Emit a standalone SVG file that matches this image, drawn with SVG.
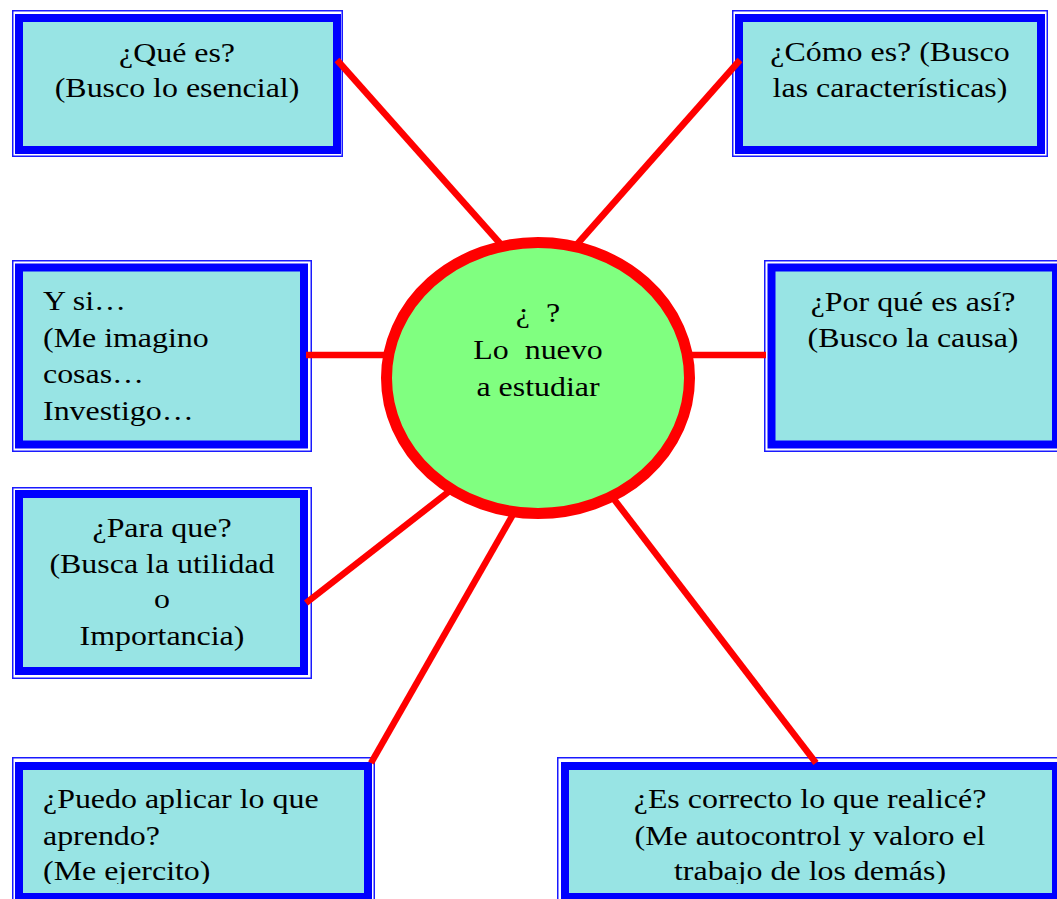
<svg xmlns="http://www.w3.org/2000/svg" width="1057" height="899" viewBox="0 0 1057 899">
<style>
.thin{fill:#ffffff;stroke:#1a1aff;stroke-width:1.5}
.band{fill:#98e4e4;stroke:#0000ff;stroke-width:8}
.t{font-family:"Liberation Serif","Times New Roman",serif;font-size:28px;fill:#000}
.c{text-anchor:middle}
.con line{stroke:#ff0000;stroke-width:6.5;stroke-linecap:butt}
</style>
<defs>
<clipPath id="clipB"><rect x="0" y="700" width="1057" height="184"/></clipPath>
</defs>
<rect width="1057" height="899" fill="#ffffff"/>

<g id="n-que-es">
<rect class="thin" x="12.75" y="10.75" width="329.5" height="145.5"/>
<rect class="band" x="19" y="18" width="318" height="132"/>
<text class="t c" transform="matrix(1.14 0 0 1 177 0)"><tspan x="0" y="62">¿Qué es?</tspan><tspan x="0" y="97">(Busco lo esencial)</tspan></text>
</g>

<g id="n-como-es">
<rect class="thin" x="732.75" y="10.75" width="314.5" height="145.5"/>
<rect class="band" x="739" y="18" width="302" height="132"/>
<text class="t c" transform="matrix(1.14 0 0 1 890 0)"><tspan x="0" y="61">¿Cómo es? (Busco</tspan><tspan x="0" y="97">las características)</tspan></text>
</g>

<g id="n-y-si">
<rect class="thin" x="12.75" y="260.75" width="298.5" height="190.5"/>
<rect class="band" x="19" y="267.5" width="285" height="177"/>
<text class="t" transform="matrix(1.14 0 0 1 43 0)"><tspan x="0" y="310">Y si…</tspan><tspan x="0" y="347">(Me imagino</tspan><tspan x="0" y="383">cosas…</tspan><tspan x="0" y="420">Investigo…</tspan></text>
</g>

<g id="n-por-que">
<rect class="thin" x="764.75" y="260.75" width="300" height="190.5"/>
<rect class="band" x="771.5" y="267.5" width="284.5" height="177"/>
<text class="t c" transform="matrix(1.14 0 0 1 913 0)"><tspan x="0" y="311">¿Por qué es así?</tspan><tspan x="0" y="347">(Busco la causa)</tspan></text>
</g>

<g id="n-para-que">
<rect class="thin" x="12.75" y="487.75" width="298.5" height="190.5"/>
<rect class="band" x="19" y="494" width="285" height="177"/>
<text class="t c" transform="matrix(1.14 0 0 1 162 0)"><tspan x="0" y="537">¿Para que?</tspan><tspan x="0" y="573">(Busca la utilidad</tspan><tspan x="0" y="608">o</tspan><tspan x="0" y="645">Importancia)</tspan></text>
</g>

<g id="n-puedo">
<rect class="thin" x="12.75" y="757.75" width="361.5" height="160"/>
<rect class="band" x="19" y="766" width="349" height="131"/>
<g clip-path="url(#clipB)">
<text class="t" transform="matrix(1.14 0 0 1 43 0)"><tspan x="0" y="808">¿Puedo aplicar lo que</tspan><tspan x="0" y="845">aprendo?</tspan><tspan x="0" y="880">(Me ejercito)</tspan></text>
</g>
</g>

<g id="n-correcto">
<rect class="thin" x="557.75" y="757.75" width="510" height="160"/>
<rect class="band" x="565" y="766" width="491" height="131"/>
<g clip-path="url(#clipB)">
<text class="t c" transform="matrix(1.14 0 0 1 810 0)"><tspan x="0" y="808">¿Es correcto lo que realicé?</tspan><tspan x="0" y="845">(Me autocontrol y valoro el</tspan><tspan x="0" y="880">trabajo de los demás)</tspan></text>
</g>
</g>

<g id="connectors" class="con">
<line x1="337" y1="60" x2="505" y2="249"/>
<line x1="740" y1="60" x2="572" y2="250"/>
<line x1="306" y1="355" x2="392" y2="355"/>
<line x1="686" y1="355" x2="766" y2="355"/>
<line x1="306" y1="603" x2="456" y2="486"/>
<line x1="371" y1="763" x2="515" y2="511"/>
<line x1="816" y1="763" x2="610" y2="494"/>
</g>

<g id="n-centro">
<ellipse cx="538" cy="378" rx="151.5" ry="135.5" fill="#80ff80" stroke="#ff0000" stroke-width="11"/>
<text class="t c" transform="matrix(1.14 0 0 1 538 0)"><tspan x="0" y="322">¿&#160;&#160;?</tspan><tspan x="0" y="359">Lo&#160; nuevo</tspan><tspan x="0" y="396">a estudiar</tspan></text>
</g>
</svg>
